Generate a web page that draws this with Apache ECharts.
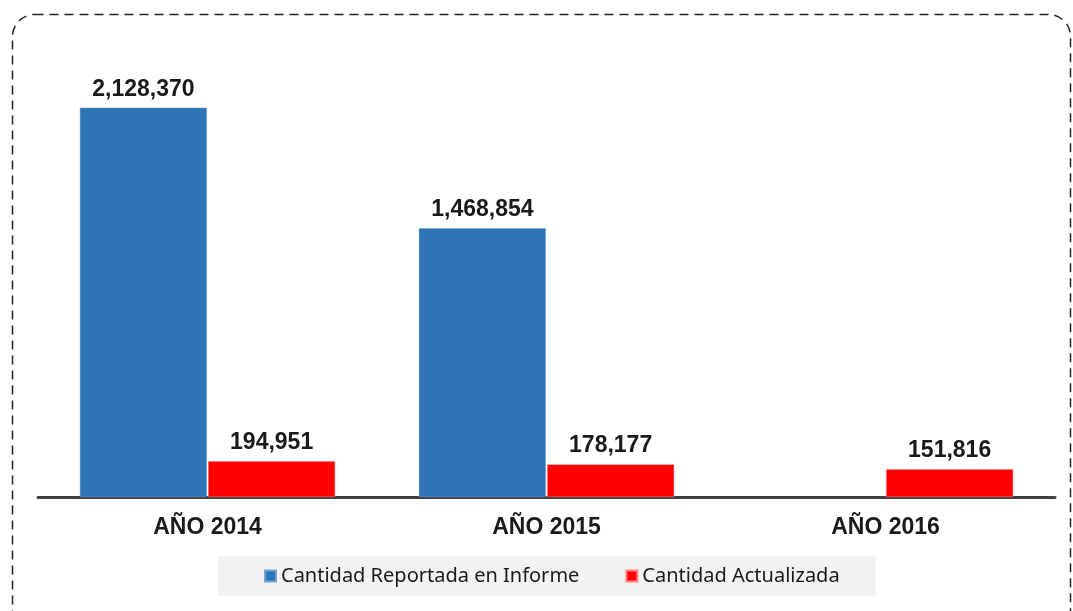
<!DOCTYPE html>
<html>
<head>
<meta charset="utf-8">
<script src="https://cdn.jsdelivr.net/npm/echarts@6/dist/echarts.min.js"></script>
<style>
  html, body { margin: 0; padding: 0; background: #fff; }
  #chart { width: 1073px; height: 611px; }
</style>
</head>
<body>
<div id="chart"></div>
<script>
var categories = ['AÑO 2014', 'AÑO 2015', 'AÑO 2016'];
var seriesNames = ['Cantidad Reportada en Informe', 'Cantidad Actualizada'];
var reportada = [2128370, 1468854, null];
var actualizada = [194951, 178177, 151816];

var chart = echarts.init(document.getElementById('chart'));

var labelStyle = {
    show: true,
    position: 'top',
    distance: 7,
    fontFamily: 'Liberation Sans, Arial, sans-serif',
    fontWeight: 'bold',
    fontSize: 23,
    color: '#1a1a1a',
    formatter: function (p) {
        return p.value == null ? '' : p.value.toLocaleString('en-US');
    }
};

chart.setOption({
    animation: false,
    backgroundColor: '#fff',
    graphic: [{
        type: 'rect',
        left: 10,
        top: 12,
        shape: { width: 1058, height: 620, r: 22 },
        style: { fill: 'none', stroke: '#222', lineWidth: 1.5, lineDash: [9, 6] },
        z: 0
    }],
    grid: { left: 38, right: 18, top: 58, bottom: 114, containLabel: false },
    legend: {
        data: seriesNames,
        left: 218,
        top: 556,
        padding: [10, 36, 10, 46],
        backgroundColor: '#F2F2F2',
        itemWidth: 11,
        itemHeight: 11,
        itemGap: 46,
        icon: 'rect',
        textStyle: { fontFamily: 'Noto Sans, sans-serif', fontSize: 20, color: '#1a1a1a' }
    },
    xAxis: {
        type: 'category',
        data: categories,
        axisLine: { lineStyle: { color: '#404040', width: 3 } },
        axisTick: { show: false },
        axisLabel: {
            margin: 19,
            fontFamily: 'Liberation Sans, Arial, sans-serif',
            fontWeight: 'bold',
            fontSize: 23,
            color: '#1a1a1a'
        }
    },
    yAxis: {
        type: 'value',
        min: 0,
        max: 2400000,
        show: false,
        splitLine: { show: false }
    },
    series: [{
        name: seriesNames[0],
        type: 'bar',
        data: reportada,
        barWidth: 127,
        barGap: '1%',
        itemStyle: { color: '#2E75B6', borderColor: '#6FA3D6', borderWidth: 0.5 },
        label: labelStyle
    }, {
        name: seriesNames[1],
        type: 'bar',
        data: actualizada,
        barWidth: 127,
        barGap: '1%',
        itemStyle: { color: '#FF0000', borderColor: '#FF8080', borderWidth: 0.5 },
        label: labelStyle
    }]
});
</script>
</body>
</html>
